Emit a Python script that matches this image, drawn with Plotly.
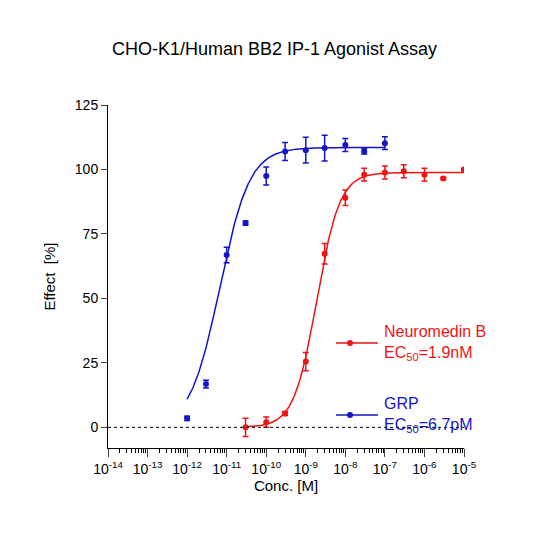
import numpy as np
import plotly.graph_objects as go

grp_x = [1e-12, 3e-12, 1e-11, 3e-11, 1e-10, 3e-10, 1e-9, 3e-9, 1e-8, 3e-8, 1e-7]
grp_y = [3.5, 16.8, 66.8, 79.2, 97.5, 107.0, 107.5, 108.3, 109.5, 107.0, 110.2]
grp_err = [0.8, 1.5, 3.0, 0.8, 3.5, 3.5, 5.0, 5.0, 2.5, 1.0, 2.5]
nmb_x = [3e-11, 1e-10, 3e-10, 1e-9, 3e-9, 1e-8, 3e-8, 1e-7, 3e-7, 1e-6, 3e-6, 1e-5]
nmb_y = [0.0, 2.0, 5.4, 25.5, 67.3, 89.0, 98.0, 98.8, 99.3, 98.0, 96.5, 100.0]
nmb_err = [3.5, 2.0, 0.8, 3.5, 4.0, 3.0, 2.5, 2.5, 2.5, 2.5, 0.5, 0.5]
# fitted 4PL parameters (bottom, top, EC50, hill)
grp_fit = (0.0, 108.5, 6.7e-12, 1.15)
nmb_fit = (0.0, 98.8, 1.9e-9, 1.5)
BLUE = "#1414c8"
RED = "#f01414"

def curve(p, lo, hi):
    xs = np.logspace(np.log10(lo), np.log10(hi), 300)
    b, t, ec, h = p
    return xs, b + (t - b) / (1 + (ec / xs) ** h)

fig = go.Figure()
for xs, ys, er, p, c, lo, hi in [(grp_x, grp_y, grp_err, grp_fit, BLUE, 1e-12, 1e-7),
                                  (nmb_x, nmb_y, nmb_err, nmb_fit, RED, 3e-11, 1e-5)]:
    cx, cy = curve(p, lo, hi)
    fig.add_trace(go.Scatter(x=cx, y=cy, mode="lines", line=dict(color=c, width=1.5), showlegend=False))
    fig.add_trace(go.Scatter(x=xs, y=ys, mode="markers", marker=dict(color=c, size=6),
                             error_y=dict(type="data", array=er, color=c, thickness=1.5, width=3),
                             showlegend=False))

fig.add_shape(type="line", xref="paper", x0=0, x1=1, yref="y", y0=0, y1=0,
              line=dict(color="black", width=1, dash="dot"))

def px(x): return (x - 100) / 356
def py(y): return (440 - y) / 343

for yline, col, t in [(335, RED, "Neuromedin B<br>EC<sub>50</sub>=1.9nM"),
                      (407, BLUE, "GRP<br>EC<sub>50</sub>=6.7pM")]:
    fig.add_shape(type="line", xref="paper", yref="paper", x0=px(328), x1=px(370), y0=py(yline), y1=py(yline),
                  line=dict(color=col, width=1.5))
    fig.add_shape(type="circle", xref="paper", yref="paper", x0=px(339), x1=px(345), y0=py(yline+3), y1=py(yline-3),
                  fillcolor=col, line=dict(color=col, width=0))
    fig.add_annotation(xref="paper", yref="paper", x=px(374), y=py(yline), text=t, showarrow=False,
                       xanchor="left", yanchor="middle", align="left", font=dict(color=col, size=16))

majors = [10.0 ** e for e in range(-14, -4)]
minors = [m * 10.0 ** e for e in range(-14, -5) for m in range(2, 10)]
fig.update_layout(
    width=533, height=533, margin=dict(l=100, r=77, t=97, b=93),
    paper_bgcolor="white", plot_bgcolor="white",
    font=dict(family="Liberation Sans, Arial", color="black"),
    title=dict(text="CHO-K1/Human BB2 IP-1 Agonist Assay", x=0.5, xanchor="center", y=0.935, font=dict(size=18)),
    xaxis=dict(type="log", range=[-14, -5], tickvals=majors,
               ticktext=[f"10<sup>{e}</sup>" for e in range(-14, -4)],
               ticks="outside", ticklen=8, tickwidth=1, showline=True, linecolor="black", showgrid=False,
               minor=dict(tickvals=minors, ticks="outside", ticklen=4, tickcolor="black", showgrid=False),
               title=dict(text="Conc. [M]", font=dict(size=15), standoff=2), tickfont=dict(size=14)),
    yaxis=dict(range=[-8, 125], tickvals=[0, 25, 50, 75, 100, 125], ticks="outside", ticklen=6,
               showline=True, linecolor="black", showgrid=False, zeroline=False,
               title=dict(text="Effect  [%]", font=dict(size=15)), tickfont=dict(size=14)),
)
fig.write_html("out.html")
